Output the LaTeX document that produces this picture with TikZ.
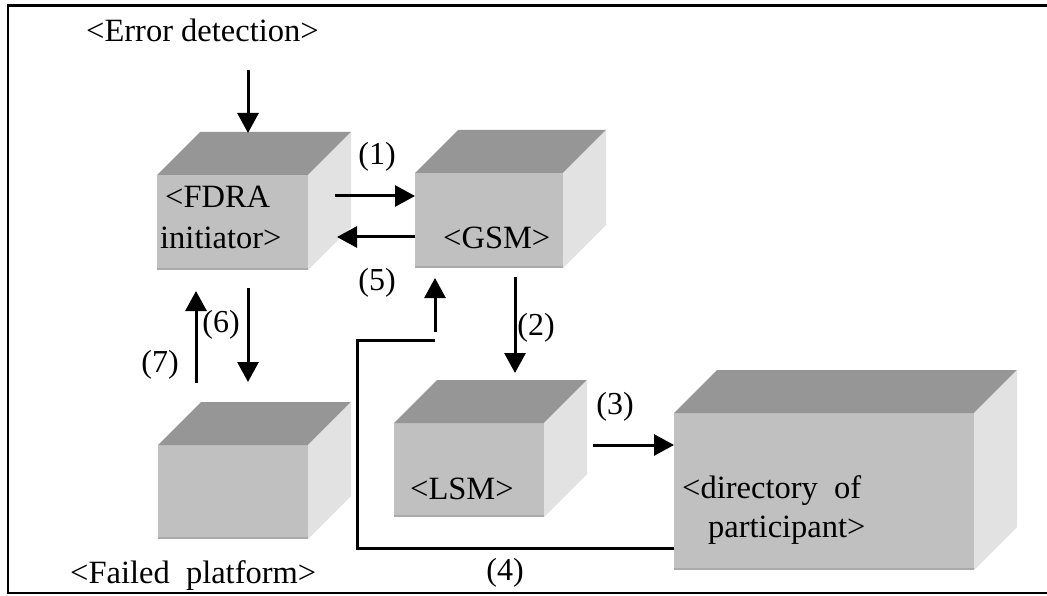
\documentclass[tikz,border=0pt]{standalone}
\usepackage{fontspec}
\setmainfont{Liberation Serif}
\usetikzlibrary{arrows.meta,calc}
\definecolor{frontc}{RGB}{192,192,192}
\definecolor{topc}{RGB}{150,150,150}
\definecolor{sidec}{RGB}{226,226,226}
\definecolor{edgec}{RGB}{170,170,170}
\tikzset{
  front/.style={fill=frontc, draw=none, inner sep=0pt, outer sep=0pt},
  lbl/.style={inner sep=0pt, font=\fontsize{32}{38}\selectfont},
  txt/.style={inner sep=0pt, anchor=base west, font=\fontsize{32.5}{38}\selectfont},
  arr/.style={line width=3pt, -{Triangle[length=20pt,width=21pt]}},
  ln/.style={line width=3pt},
}
\newcommand{\mycube}[2]{%
  \fill[topc] (#1.north west) -- ++(#2,-#2) -- ($(#1.north east)+(#2,-#2)$) -- (#1.north east) -- cycle;
  \fill[sidec] (#1.north east) -- ++(#2,-#2) -- ($(#1.south east)+(#2,-#2)$) -- (#1.south east) -- cycle;
  \draw[edgec, line width=2pt] ($(#1.south west)+(0,-1)$) -- ($(#1.south east)+(0,-1)$);
}
\begin{document}
\begin{tikzpicture}[x=1pt,y=-1pt]
\useasboundingbox (0,0) rectangle (1047,596);
\fill[white] (0,0) rectangle (1047,596);
% frame
\draw[line width=2.8pt] (1047,5.5) -- (8,5.5) -- (8,593) -- (1047,593);

% cubes
\node[front, minimum width=151pt, minimum height=95pt] (fdra) at (232.5,222.5) {};
\mycube{fdra}{43}
\node[front, minimum width=148pt, minimum height=95pt] (gsm) at (489,220.5) {};
\mycube{gsm}{43}
\node[front, minimum width=150pt, minimum height=94pt] (failed) at (233,492) {};
\mycube{failed}{43}
\node[front, minimum width=150pt, minimum height=94pt] (lsm) at (469,470) {};
\mycube{lsm}{43}
\node[front, minimum width=300pt, minimum height=157pt] (dir) at (824,491.5) {};
\mycube{dir}{43}

% texts
\node[txt] (terr) at (86,42) {<Error detection>};
\node[txt] (tfdra1) at (165,208) {<FDRA};
\node[txt] (tfdra2) at (160,248) {initiator>};
\node[txt] (tgsm) at (443,248) {<GSM>};
\node[txt] (tlsm) at (410,499) {<LSM>};
\node[txt] (tdir1) at (682,498) {<directory\ \ of};
\node[txt] (tdir2) at (708,537) {participant>};
\node[txt] (tfail) at (70,583) {<Failed\ \ platform>};

% step labels
\node[lbl] (l1) at (377,157) {(1)};
\node[lbl] (l2) at (536,328) {(2)};
\node[lbl] (l3) at (615,407) {(3)};
\node[lbl] (l4) at (505,573) {(4)};
\node[lbl] (l5) at (377,283) {(5)};
\node[lbl] (l6) at (221,325) {(6)};
\node[lbl] (l7) at (160,365) {(7)};

% connector coordinates
\coordinate (e0) at (248,70);
\coordinate (e1) at (248,133);
\coordinate (a1s) at (335,196);
\coordinate (a5e) at (337,237);
\coordinate (a2s) at (515,277);
\coordinate (a2e) at (515,373);
\coordinate (a3s) at (593,445);
\coordinate (a6s) at (248,288);
\coordinate (a6e) at (248,382);
\coordinate (a7s) at (196,383);
\coordinate (a7e) at (196,291);
\coordinate (r1) at (357,548);
\coordinate (r2) at (357,340);
\coordinate (r3) at (435,340);
\coordinate (r4) at (435,278);

% connectors
\draw[arr] (e0) -- (e1);
\draw[arr] (a1s) -- (a1s -| gsm.west);
\draw[arr] (a5e -| gsm.west) -- (a5e);
\draw[arr] (a2s) -- (a2e);
\draw[arr] (a3s) -- (a3s -| dir.west);
\draw[arr] (a6s) -- (a6e);
\draw[arr] (a7s) -- (a7e);
\draw[ln] (r1 -| dir.west) -- (r1) -- (r2) -- (r3);
\draw[arr] ($(r3)+(0,-8)$) -- (r4);
\end{tikzpicture}
\end{document}
